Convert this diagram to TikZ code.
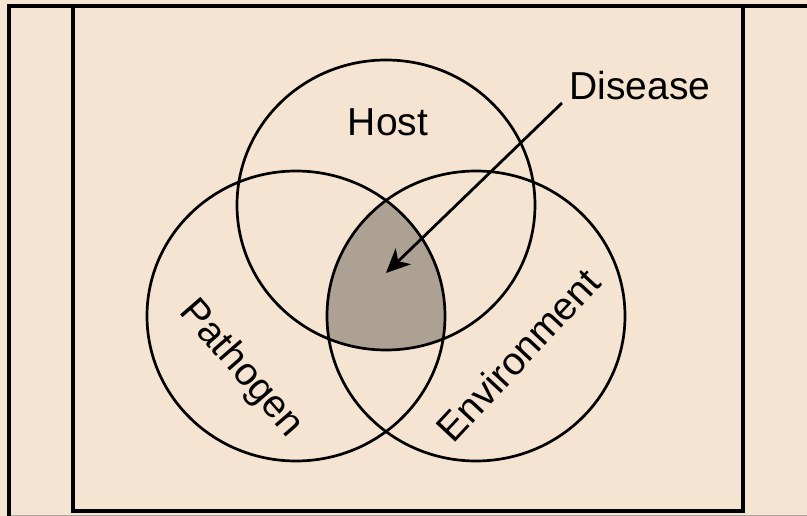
\documentclass[tikz,border=0pt]{standalone}
\usepackage{fontspec}
\setmainfont{Liberation Sans}
\usetikzlibrary{arrows.meta}
\definecolor{paper}{RGB}{245,228,209}
\definecolor{overlap}{RGB}{172,161,147}
\begin{document}
\begin{tikzpicture}[x=1pt,y=-1pt,
  ring/.style={draw=black,line width=2.7pt},
  frame/.style={draw=black,line width=3.6pt},
  lbl/.style={font=\fontsize{39}{46}\selectfont,inner sep=0pt}]
\useasboundingbox (0,0) rectangle (807,516);
\fill[paper] (0,0) rectangle (807,516);

% outer and inner frames
\draw[gray!70,line width=1pt] (9,515) -- (807,515);
\draw[frame] (807,6) -- (9,6) -- (9,516);
\draw[frame] (73,6) rectangle (743,511);

% overlap of the three factors
\begin{scope}
  \clip (386,205) ellipse [x radius=149,y radius=145];
  \clip (296,316) ellipse [x radius=149,y radius=145];
  \fill[overlap] (476,316) ellipse [x radius=149,y radius=145];
\end{scope}

% the three circles
\draw[ring] (386,205) ellipse [x radius=149,y radius=145];
\draw[ring] (296,316) ellipse [x radius=149,y radius=145];
\draw[ring] (476,316) ellipse [x radius=149,y radius=145];

% labels
\node[lbl] (host) at (388,122) {Host};
\node[lbl,rotate=-49] (pathogen) at (241,369) {Pathogen};
\node[lbl,rotate=47] (environment) at (518,355) {Environment};
\node[lbl] (disease) at (640,86) {Disease};

% arrow into the shared region
\coordinate (tail) at (562,103);
\coordinate (core) at (386,273);
\draw[line width=2.8pt,-{Stealth[length=24pt,width=22pt,inset=7pt]}] (tail) -- (core);
\end{tikzpicture}
\end{document}
